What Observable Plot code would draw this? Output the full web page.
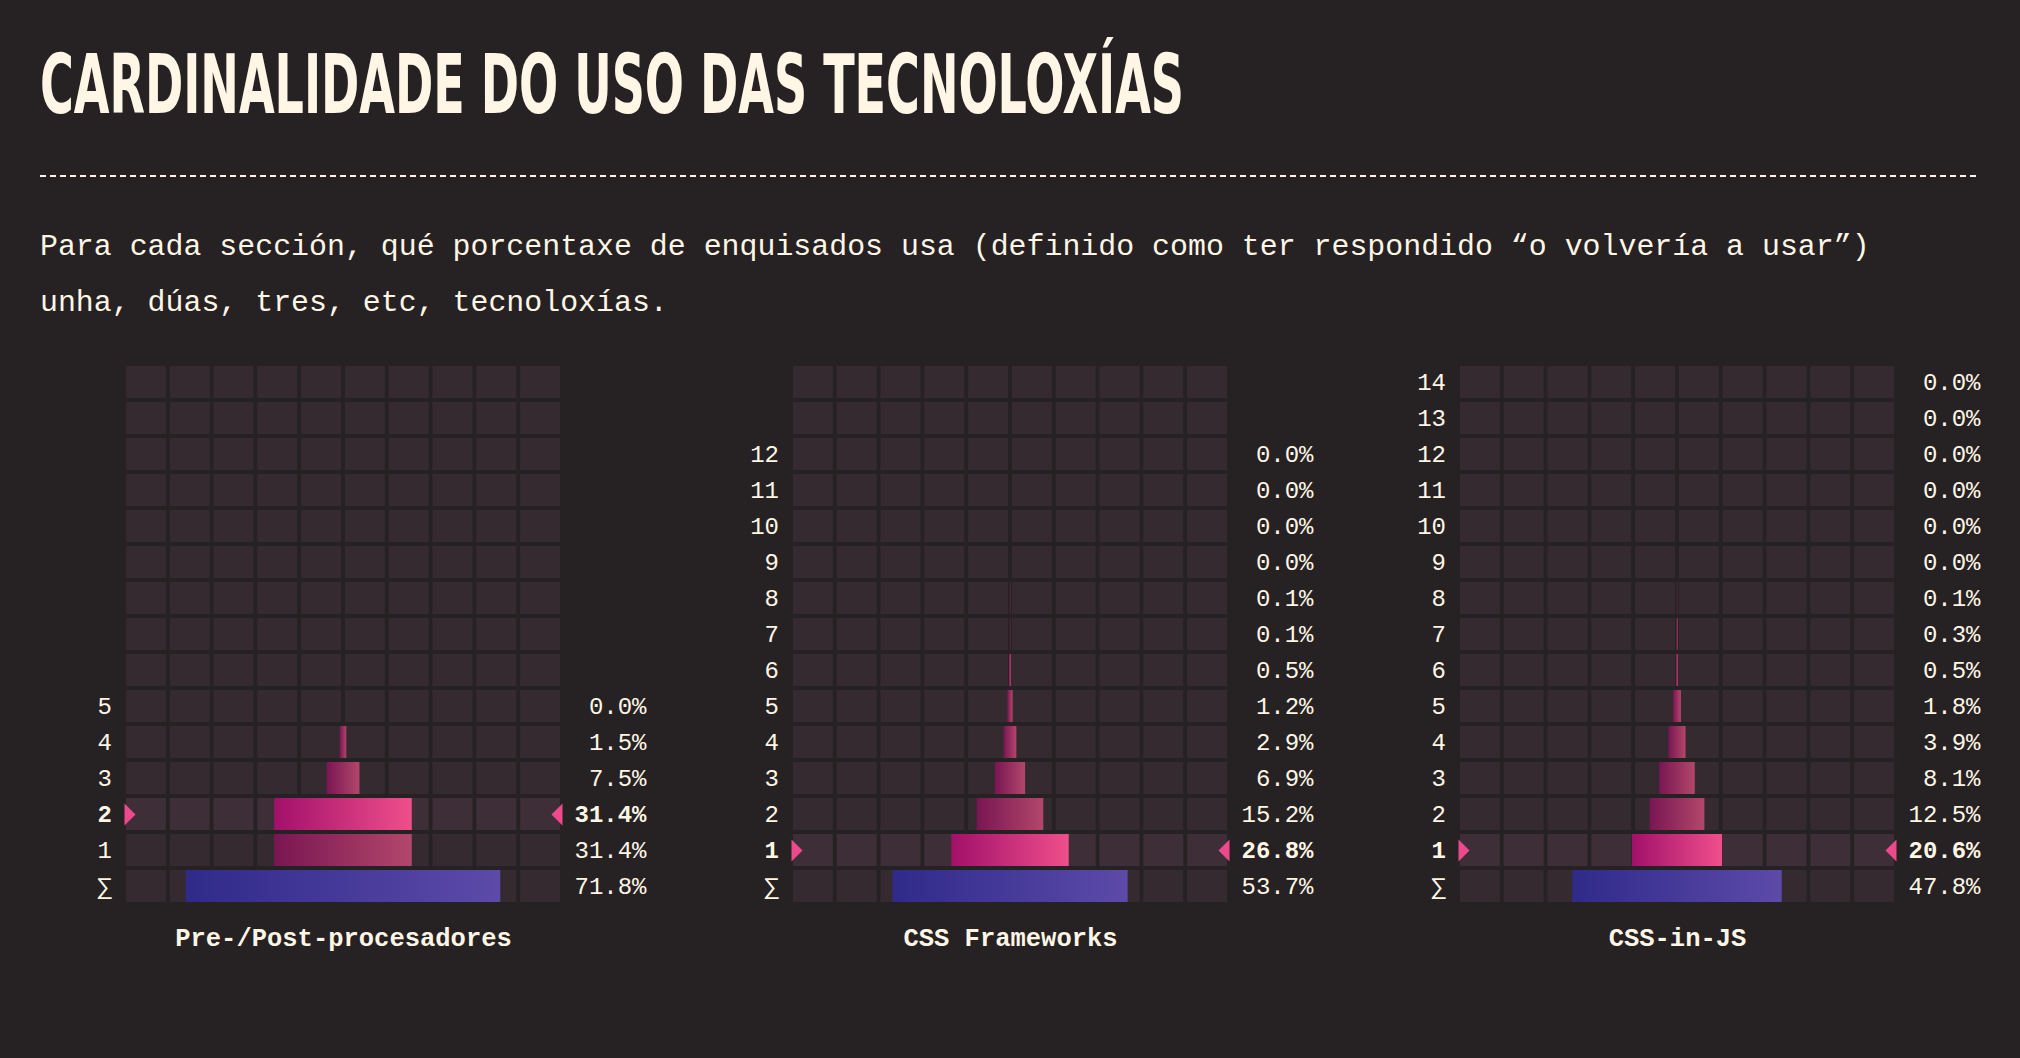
<!DOCTYPE html>
<html>
<head>
<meta charset="utf-8">
<script src="https://cdn.jsdelivr.net/npm/d3@7"></script>
<script src="https://cdn.jsdelivr.net/npm/@observablehq/plot@0.6"></script>
<style>
  html, body { margin: 0; padding: 0; background: #262123; width: 2020px; height: 1058px; overflow: hidden; }
  #title { position: absolute; left: 40px; top: 43.6px; font-family: "DejaVu Sans Condensed", "DejaVu Sans", sans-serif; font-weight: bold; font-size: 82px; line-height: 82px; color: #fff6e5; white-space: nowrap; transform-origin: 0 0; margin: 0; }
  #rule { position: absolute; left: 40px; top: 175px; width: 1940px; height: 2px; background: repeating-linear-gradient(to right, #fff6e5 0 6px, transparent 6px 10px); }
  #sub { position: absolute; left: 40px; top: 219px; width: 1880px; font-family: "Liberation Mono", monospace; font-size: 29.9px; line-height: 56px; color: #fff6e5; margin: 0; }
  #charts { position: absolute; left: 40px; top: 340px; display: flex; gap: 61px; }
  #charts svg { overflow: visible; }
  #defs { position: absolute; width: 0; height: 0; }
</style>
</head>
<body>
<h1 id="title">CARDINALIDADE DO USO DAS TECNOLOXÍAS</h1>
<div id="rule"></div>
<p id="sub">Para cada sección, qué porcentaxe de enquisados usa (definido como ter respondido “o volvería a usar”) unha, dúas, tres, etc, tecnoloxías.</p>
<svg id="defs" aria-hidden="true">
  <defs>
    <linearGradient id="gHi" x1="0" x2="1" y1="0" y2="0">
      <stop offset="0" stop-color="#a2106a"/>
      <stop offset="1" stop-color="#ef4f8b"/>
    </linearGradient>
    <linearGradient id="gBar" x1="0" x2="1" y1="0" y2="0">
      <stop offset="0" stop-color="#791652"/>
      <stop offset="1" stop-color="#b2476b"/>
    </linearGradient>
    <linearGradient id="gSum" x1="0" x2="1" y1="0" y2="0">
      <stop offset="0" stop-color="#2f2a89"/>
      <stop offset="1" stop-color="#5d4aa9"/>
    </linearGradient>
  </defs>
</svg>
<div id="charts"></div>
<script>
// ---- data ----
const panelNames = ["Pre-/Post-procesadores", "CSS Frameworks", "CSS-in-JS"];

const preCounts = ["1", "2", "3", "4", "5"];
const prePercents = [31.4, 31.4, 7.5, 1.5, 0.0];
const preTotal = 71.8;
const preHighlight = "2";

const fwCounts = ["1", "2", "3", "4", "5", "6", "7", "8", "9", "10", "11", "12"];
const fwPercents = [26.8, 15.2, 6.9, 2.9, 1.2, 0.5, 0.1, 0.1, 0.0, 0.0, 0.0, 0.0];
const fwTotal = 53.7;
const fwHighlight = "1";

const cijCounts = ["1", "2", "3", "4", "5", "6", "7", "8", "9", "10", "11", "12", "13", "14"];
const cijPercents = [20.6, 12.5, 8.1, 3.9, 1.8, 0.5, 0.3, 0.1, 0.0, 0.0, 0.0, 0.0, 0.0, 0.0];
const cijTotal = 47.8;
const cijHighlight = "1";

const sumLabel = "∑";
const rowDomain = ["14", "13", "12", "11", "10", "9", "8", "7", "6", "5", "4", "3", "2", "1", "∑"];
const gridSteps = [0, 10, 20, 30, 40, 50, 60, 70, 80, 90];

// ---- styling ----
const cream = "#fff6e5";
const cellColor = "#352a30";
const cellHiColor = "#3e2e38";
const pink = "#ec4a8c";

const triRight = { draw(ctx, size) { const r = Math.sqrt(size / Math.PI); ctx.moveTo(0, -r); ctx.lineTo(r, 0); ctx.lineTo(0, r); ctx.closePath(); } };
const triLeft = { draw(ctx, size) { const r = Math.sqrt(size / Math.PI); ctx.moveTo(0, -r); ctx.lineTo(-r, 0); ctx.lineTo(0, r); ctx.closePath(); } };

function panel(name, counts, percents, total, highlight) {
  const rows = counts.map((c, i) => ({ row: c, value: percents[i], hi: c === highlight, sum: false }));
  rows.push({ row: sumLabel, value: total, hi: false, sum: true });
  const cells = [];
  for (const r of rowDomain) for (const s of gridSteps) cells.push({ row: r, col: s, hi: r === highlight });
  const fmt = d => d.value.toFixed(1) + "%";
  const hiRows = rows.filter(d => d.hi);
  const loRows = rows.filter(d => !d.hi);
  return Plot.plot({
    width: 606,
    height: 632,
    marginLeft: 84,
    marginRight: 84,
    marginTop: 25.7,
    marginBottom: 70.3,
    style: { background: "none", color: cream, fontFamily: "'Liberation Mono', monospace", overflow: "visible" },
    x: { domain: [0, 100], axis: null },
    y: { domain: rowDomain, axis: null, paddingInner: 4 / 36, paddingOuter: 0 },
    marks: [
      Plot.barX(cells, { x1: "col", x2: d => d.col + 10, y: "row", fill: d => d.hi ? cellHiColor : cellColor, insetLeft: 1.9, insetRight: 1.9 }),
      Plot.barX(rows, { x1: d => 50 - d.value / 2, x2: d => 50 + d.value / 2, y: "row", fill: d => d.sum ? "url(#gSum)" : d.hi ? "url(#gHi)" : "url(#gBar)" }),
      Plot.dot(hiRows, { x: () => 0, y: "row", symbol: triRight, r: 11, fill: pink }),
      Plot.dot(hiRows, { x: () => 100, y: "row", symbol: triLeft, r: 11, fill: pink }),
      Plot.text(loRows, { x: () => 0, y: "row", text: "row", dx: -12.5, textAnchor: "end", fontSize: 24, fill: cream }),
      Plot.text(hiRows, { x: () => 0, y: "row", text: "row", dx: -12.5, textAnchor: "end", fontSize: 24, fontWeight: "bold", fill: cream }),
      Plot.text(loRows, { x: () => 100, y: "row", text: fmt, dx: 84, textAnchor: "end", fontSize: 24, fill: cream }),
      Plot.text(hiRows, { x: () => 100, y: "row", text: fmt, dx: 84, textAnchor: "end", fontSize: 24, fontWeight: "bold", fill: cream }),
      Plot.text([name], { frameAnchor: "bottom", dy: 43.5, text: d => d, fontSize: 25.5, fontWeight: "bold", fill: cream })
    ]
  });
}

const charts = document.getElementById("charts");
charts.append(panel(panelNames[0], preCounts, prePercents, preTotal, preHighlight));
charts.append(panel(panelNames[1], fwCounts, fwPercents, fwTotal, fwHighlight));
charts.append(panel(panelNames[2], cijCounts, cijPercents, cijTotal, cijHighlight));

// fit the condensed title to the reference width
const title = document.getElementById("title");
const w = title.getBoundingClientRect().width;
title.style.transform = `scaleX(${1144 / w})`;
</script>
</body>
</html>
